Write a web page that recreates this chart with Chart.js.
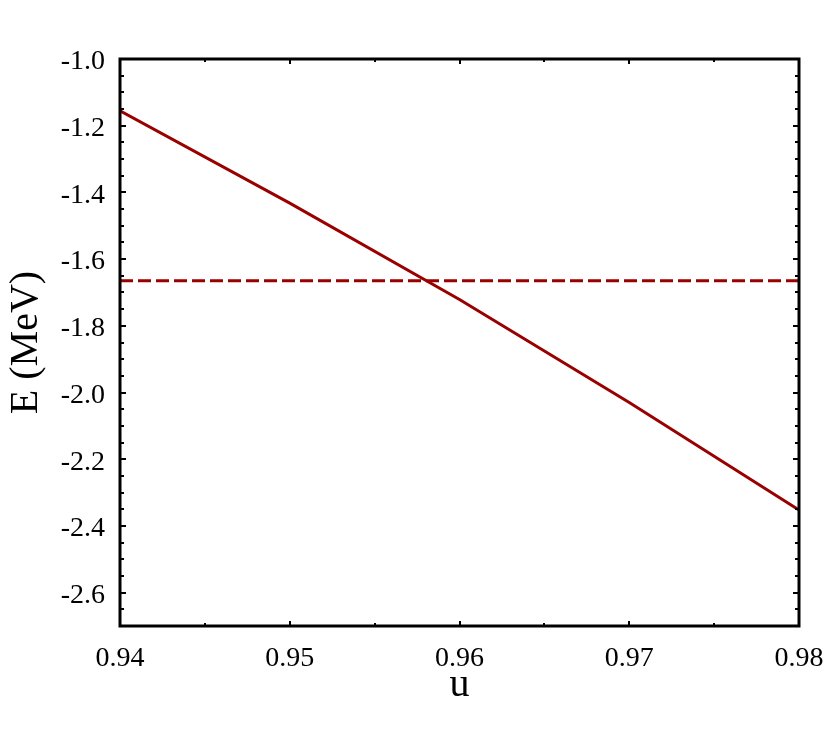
<!DOCTYPE html>
<html>
<head>
<meta charset="utf-8">
<script src="https://cdn.jsdelivr.net/npm/chart.js@4"></script>
<style>
  html, body { margin: 0; padding: 0; background: #ffffff; }
  #wrap { width: 830px; height: 733px; }
</style>
</head>
<body>
<div id="wrap"><canvas id="c" width="830" height="733"></canvas></div>
<script>
// ---- data ----
const uValues = [0.94, 0.95, 0.96, 0.97, 0.98];
const energyMeV = [-1.155, -1.432, -1.721, -2.030, -2.352];
const thresholdU = [0.94, 0.98];
const thresholdE = [-1.665, -1.665];
const xTickValues = [0.94, 0.95, 0.96, 0.97, 0.98];
const yTickValues = [-2.6, -2.4, -2.2, -2.0, -1.8, -1.6, -1.4, -1.2, -1.0];
const xTitle = 'u';
const yTitle = 'E (MeV)';

const lineColor = '#990000';
const serif = "'Liberation Serif', 'DejaVu Serif', serif";

const frameTicks = {
  id: 'frameTicks',
  afterDatasetsDraw(chart) {
    const ctx = chart.ctx;
    const a = chart.chartArea;
    const xs = chart.scales.x, ys = chart.scales.y;
    ctx.save();
    ctx.strokeStyle = '#000';
    ctx.lineCap = 'butt';
    ctx.lineWidth = 2;
    const xMinorStep = 0.005, yMinorStep = 0.05;
    const nx = Math.round((xs.max - xs.min) / xMinorStep);
    for (let i = 1; i < nx; i++) {
      const v = xs.min + i * xMinorStep;
      const major = i % 2 === 0;
      const len = major ? 5 : 3;
      const px = Math.round(xs.getPixelForValue(v));
      ctx.beginPath();
      ctx.moveTo(px, a.bottom); ctx.lineTo(px, a.bottom - len);
      ctx.moveTo(px, a.top); ctx.lineTo(px, a.top + len);
      ctx.stroke();
    }
    const ny = Math.round((ys.max - ys.min) / yMinorStep);
    for (let i = 1; i < ny; i++) {
      const v = ys.min + i * yMinorStep;
      const r = (v + 2.6) / 0.2;
      const major = Math.abs(r - Math.round(r)) < 1e-6;
      const len = major ? 6 : 4;
      const py = Math.round(ys.getPixelForValue(v));
      ctx.beginPath();
      ctx.moveTo(a.left, py); ctx.lineTo(a.left + len, py);
      ctx.moveTo(a.right, py); ctx.lineTo(a.right - len, py);
      ctx.stroke();
    }
    ctx.lineWidth = 3;
    ctx.strokeRect(a.left, a.top, a.right - a.left, a.bottom - a.top);
    ctx.restore();
  }
};

new Chart(document.getElementById('c'), {
  type: 'line',
  data: {
    datasets: [
      {
        data: uValues.map((u, i) => ({ x: u, y: energyMeV[i] })),
        borderColor: lineColor,
        borderWidth: 3,
        pointRadius: 0,
        tension: 0,
        fill: false
      },
      {
        data: thresholdU.map((u, i) => ({ x: u, y: thresholdE[i] })),
        borderColor: lineColor,
        borderWidth: 3,
        borderDash: [13, 5],
        pointRadius: 0,
        tension: 0,
        fill: false
      }
    ]
  },
  options: {
    responsive: false,
    animation: false,
    devicePixelRatio: 1,
    layout: { padding: { top: 59, right: 31, left: 0, bottom: 0 } },
    plugins: { legend: { display: false }, tooltip: { enabled: false } },
    scales: {
      x: {
        type: 'linear',
        min: 0.94, max: 0.98,
        afterBuildTicks: s => { s.ticks = xTickValues.map(v => ({ value: v })); },
        afterFit: s => { s.height = 107; s.paddingLeft = 0; s.paddingRight = 0; },
        grid: { display: false, drawTicks: false },
        border: { display: false },
        ticks: {
          color: '#000',
          padding: 16,
          maxRotation: 0,
          autoSkip: false,
          font: { family: serif, size: 28 },
          callback: v => Number(v).toFixed(2)
        },
        title: {
          display: true, text: xTitle, color: '#000',
          font: { family: serif, size: 40, weight: 'normal' },
          padding: { top: 0, bottom: 24 }
        }
      },
      y: {
        type: 'linear',
        min: -2.7, max: -1.0,
        afterBuildTicks: s => { s.ticks = yTickValues.map(v => ({ value: v })); },
        afterFit: s => { s.width = 120; s.paddingTop = 0; s.paddingBottom = 0; },
        grid: { display: false, drawTicks: false },
        border: { display: false },
        ticks: {
          color: '#000',
          padding: 15,
          labelOffset: 3,
          autoSkip: false,
          font: { family: serif, size: 28 },
          callback: v => Number(v).toFixed(1)
        },
        title: {
          display: true, text: yTitle, color: '#000',
          font: { family: serif, size: 40, weight: 'normal' },
          padding: { top: 2, bottom: 0 }
        }
      }
    }
  },
  plugins: [frameTicks]
});
</script>
</body>
</html>
